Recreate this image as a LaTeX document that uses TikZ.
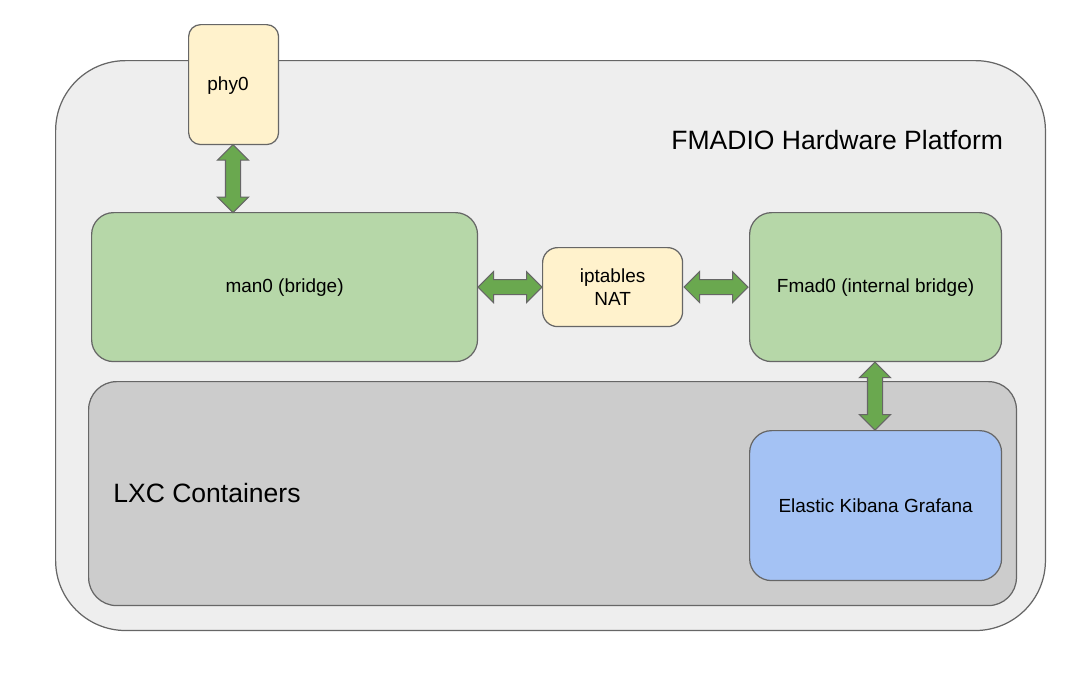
\documentclass[tikz,border=0pt]{standalone}
\usepackage{fontspec}
\setmainfont{Liberation Sans}
\usetikzlibrary{shapes.arrows,calc}
\definecolor{edgegray}{HTML}{666666}
\definecolor{platfill}{HTML}{EEEEEE}
\definecolor{lxcfill}{HTML}{CCCCCC}
\definecolor{yelfill}{HTML}{FFF2CC}
\definecolor{grnfill}{HTML}{B6D7A8}
\definecolor{blufill}{HTML}{A4C2F4}
\definecolor{arrfill}{HTML}{6AA84F}
\begin{document}
\begin{tikzpicture}[x=0.02cm,y=-0.02cm,
  box/.style={draw=edgegray,line width=0.7pt,inner sep=0pt,align=center,font=\fontsize{10.8}{13}\selectfont},
  bigtext/.style={font=\fontsize{15.1}{18}\selectfont,inner sep=0pt},
  blockarrow/.style={double arrow,draw=edgegray,fill=arrfill,line width=0.6pt,
    double arrow head extend=0.16cm,minimum width=0.6cm,inner xsep=0pt,inner ysep=0.14cm,double arrow head indent=0pt}]
\useasboundingbox (0,0) rectangle (1081,674);
% platform
\node[box,fill=platfill,rounded corners=1.4cm,minimum width=19.8cm,minimum height=11.4cm,anchor=north west] (plat) at (55,60) {};
\node[bigtext,anchor=base west] (plattitle) at (671,149) {FMADIO Hardware Platform};
% LXC
\node[box,fill=lxcfill,rounded corners=0.56cm,minimum width=18.56cm,minimum height=4.48cm,anchor=north west] (lxc) at (88,381) {};
\node[bigtext,anchor=base west] (lxctitle) at (113,502) {LXC Containers};
% nodes
\node[box,fill=yelfill,rounded corners=0.24cm,minimum width=1.8cm,minimum height=2.4cm,anchor=north west] (phy) at (188,24) {};
\node[font=\fontsize{10.8}{13}\selectfont] (phytext) at (228,86) {phy0};
\node[box,fill=grnfill,rounded corners=0.44cm,minimum width=7.72cm,minimum height=2.98cm,anchor=north west] (man) at (91,212) {man0 (bridge)};
\node[box,fill=yelfill,rounded corners=0.3cm,minimum width=2.8cm,minimum height=1.58cm,anchor=north west] (ipt) at (542,247) {iptables\\NAT};
\node[box,fill=grnfill,rounded corners=0.44cm,minimum width=5.04cm,minimum height=2.98cm,anchor=north west] (fmad) at (749,212) {Fmad0 (internal bridge)};
\node[box,fill=blufill,rounded corners=0.44cm,minimum width=5.04cm,minimum height=3.0cm,anchor=north west] (els) at (749,430) {Elastic Kibana Grafana};
% arrows
\coordinate (a1s) at (phy.south -| 233,0);
\coordinate (a1e) at (man.north -| 233,0);
\node[blockarrow,rotate=90,minimum height=1.36cm] (arr1) at ($(a1s)!0.5!(a1e)$) {};
\node[blockarrow,minimum height=1.28cm] (arr2) at ($(man.east)!0.5!(ipt.west)$) {};
\node[blockarrow,minimum height=1.28cm] (arr3) at ($(ipt.east)!0.5!(fmad.west)$) {};
\coordinate (a4s) at (fmad.south -| 875,0);
\coordinate (a4e) at (els.north -| 875,0);
\node[blockarrow,rotate=90,minimum height=1.36cm] (arr4) at ($(a4s)!0.5!(a4e)$) {};
\end{tikzpicture}
\end{document}
